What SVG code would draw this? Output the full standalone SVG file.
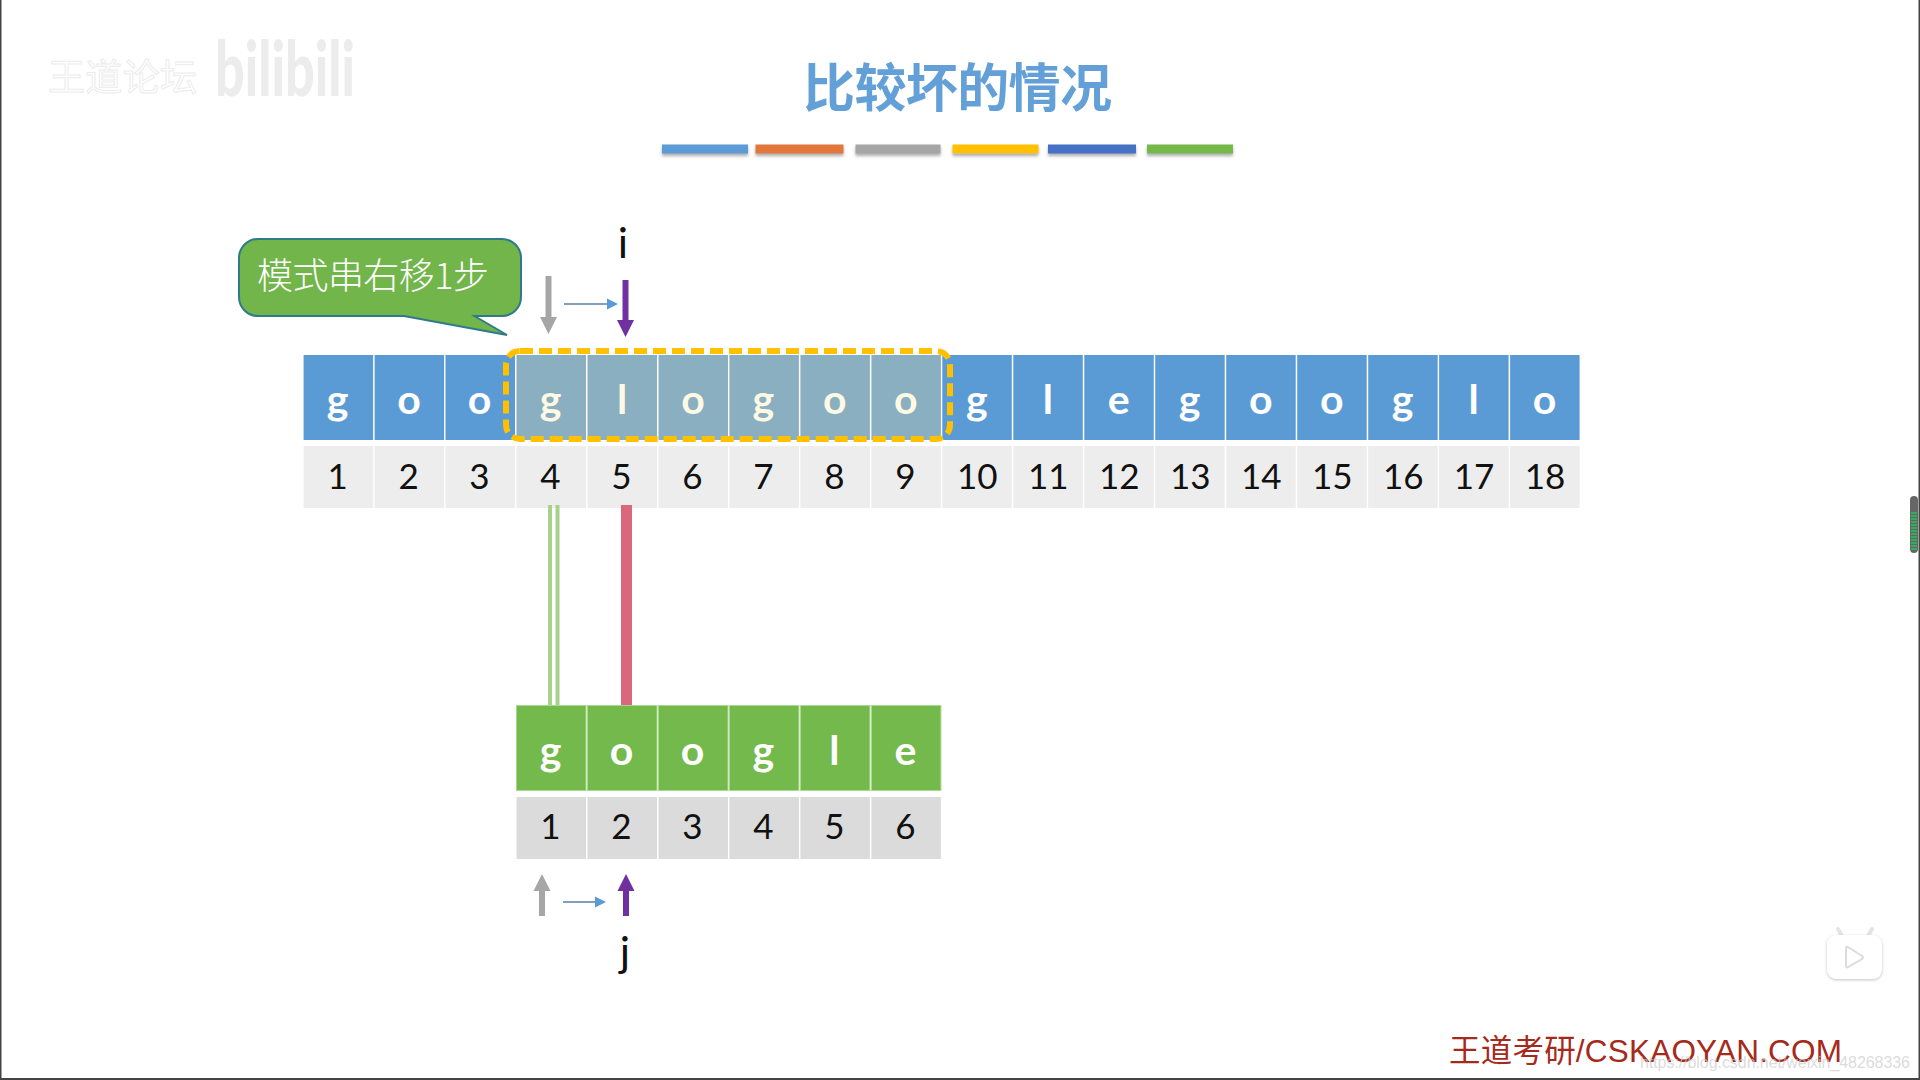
<svg xmlns="http://www.w3.org/2000/svg" width="1920" height="1080" viewBox="0 0 1920 1080">
<style>
.cjk{font-family:"Liberation Sans","Noto Sans CJK SC",sans-serif}
.l{font-family:Lato,"Open Sans",sans-serif;font-weight:700;font-size:41px;fill:#fff;text-anchor:middle}
.lo{fill:#fdf9e4}
.n{font-family:Lato,"Open Sans",sans-serif;font-size:35px;fill:#111;text-anchor:middle}
.blue{fill:#5b9bd5}.ovl{fill:#8aafc1}.green{fill:#74b94c;stroke:#a9d98e;stroke-width:1}
.g1{fill:#ededed}.g2{fill:#dbdbdb}
.bar{filter:url(#sh)}
.idx{font-family:Lato,"Open Sans",sans-serif;font-size:43px;fill:#111;text-anchor:middle}
</style>
<defs>
<filter id="sh" x="-10%" y="-50%" width="120%" height="220%"><feDropShadow dx="0" dy="2.5" stdDeviation="1.8" flood-color="#666" flood-opacity=".55"/></filter>
<filter id="sh2" x="-20%" y="-20%" width="140%" height="140%"><feDropShadow dx="0" dy="1" stdDeviation="1.5" flood-color="#999" flood-opacity=".6"/></filter>
<marker id="hg" markerUnits="userSpaceOnUse" markerWidth="18" markerHeight="18" refX="0" refY="9" orient="auto"><path d="M0 0.5L17 9L0 17.5Z" fill="#a6a6a6"/></marker>
<marker id="hp" markerUnits="userSpaceOnUse" markerWidth="18" markerHeight="18" refX="0" refY="9" orient="auto"><path d="M0 0.5L17 9L0 17.5Z" fill="#7030a0"/></marker>
<marker id="hb" markerUnits="userSpaceOnUse" markerWidth="12" markerHeight="12" refX="0" refY="6" orient="auto"><path d="M0 0.5L11 6L0 11.5Z" fill="#5b9bd5"/></marker>
</defs>
<rect width="1920" height="1080" fill="#fff"/>
<g id="frame" fill="#444"><rect x="0" y="0" width="1.5" height="1080"/><rect x="0" y="1078" width="1920" height="2"/><rect x="1918.5" y="0" width="1.5" height="1080"/></g>
<g id="watermark-left">
<text x="48" y="91" class="cjk" font-size="37" fill="#fff" stroke="#ececec" stroke-width="1" textLength="149">王道论坛</text>
<text x="215" y="96" font-family="Lato,sans-serif" font-weight="900" font-size="76" fill="#ececec" textLength="140" lengthAdjust="spacingAndGlyphs">bilibili</text>
</g>
<g id="title"><text x="803" y="107" class="cjk" font-size="52" font-weight="700" fill="#5b9bd5" fill-opacity=".95" textLength="309">比较坏的情况</text></g>
<g id="title-bars">
<rect class="bar" x="662" y="144.5" width="86" height="9" fill="#5b9bd5"/>
<rect class="bar" x="755.5" y="144.5" width="88" height="9" fill="#e2773a"/>
<rect class="bar" x="855.5" y="144.5" width="85" height="9" fill="#a5a5a5"/>
<rect class="bar" x="952.5" y="144.5" width="86" height="9" fill="#ffc000"/>
<rect class="bar" x="1048" y="144.5" width="88" height="9" fill="#4472c4"/>
<rect class="bar" x="1147" y="144.5" width="86" height="9" fill="#74b94c"/>
</g>

<g id="text-row">
<g id="t1" transform="translate(303.6 355)"><rect class="blue" width="69.5" height="85"/><text class="l" x="34" y="59">g</text></g>
<g id="t2" transform="translate(374.6 355)"><rect class="blue" width="69.5" height="85"/><text class="l" x="34.5" y="59">o</text></g>
<g id="t3" transform="translate(445.5 355)"><rect class="blue" width="69.5" height="85"/><text class="l" x="34" y="59">o</text></g>
<g id="t4" transform="translate(516.5 355)"><rect class="ovl" width="69.5" height="85"/><text class="l lo" x="34" y="59">g</text></g>
<g id="t5" transform="translate(587.5 355)"><rect class="ovl" width="69.5" height="85"/><text class="l lo" x="34.5" y="59">l</text></g>
<g id="t6" transform="translate(658.5 355)"><rect class="ovl" width="69.5" height="85"/><text class="l lo" x="34.5" y="59">o</text></g>
<g id="t7" transform="translate(729.4 355)"><rect class="ovl" width="69.5" height="85"/><text class="l lo" x="34" y="59">g</text></g>
<g id="t8" transform="translate(800.4 355)"><rect class="ovl" width="69.5" height="85"/><text class="l lo" x="34.5" y="59">o</text></g>
<g id="t9" transform="translate(871.4 355)"><rect class="ovl" width="69.5" height="85"/><text class="l lo" x="34.5" y="59">o</text></g>
<g id="t10" transform="translate(942.3 355)"><rect class="blue" width="69.5" height="85"/><text class="l" x="34.5" y="59">g</text></g>
<g id="t11" transform="translate(1013.3 355)"><rect class="blue" width="69.5" height="85"/><text class="l" x="34.5" y="59">l</text></g>
<g id="t12" transform="translate(1084.3 355)"><rect class="blue" width="69.5" height="85"/><text class="l" x="34.5" y="59">e</text></g>
<g id="t13" transform="translate(1155.2 355)"><rect class="blue" width="69.5" height="85"/><text class="l" x="34.5" y="59">g</text></g>
<g id="t14" transform="translate(1226.2 355)"><rect class="blue" width="69.5" height="85"/><text class="l" x="34.5" y="59">o</text></g>
<g id="t15" transform="translate(1297.2 355)"><rect class="blue" width="69.5" height="85"/><text class="l" x="34.5" y="59">o</text></g>
<g id="t16" transform="translate(1368.2 355)"><rect class="blue" width="69.5" height="85"/><text class="l" x="34.5" y="59">g</text></g>
<g id="t17" transform="translate(1439.1 355)"><rect class="blue" width="69.5" height="85"/><text class="l" x="34.5" y="59">l</text></g>
<g id="t18" transform="translate(1510.1 355)"><rect class="blue" width="69.5" height="85"/><text class="l" x="34.5" y="59">o</text></g>
</g>
<g id="text-index">
<g id="ti1" transform="translate(303.6 446)"><rect class="g1" width="69.5" height="62"/><text class="n" x="34" y="43">1</text></g>
<g id="ti2" transform="translate(374.6 446)"><rect class="g1" width="69.5" height="62"/><text class="n" x="34" y="43">2</text></g>
<g id="ti3" transform="translate(445.5 446)"><rect class="g1" width="69.5" height="62"/><text class="n" x="34" y="43">3</text></g>
<g id="ti4" transform="translate(516.5 446)"><rect class="g1" width="69.5" height="62"/><text class="n" x="34" y="43">4</text></g>
<g id="ti5" transform="translate(587.5 446)"><rect class="g1" width="69.5" height="62"/><text class="n" x="34" y="43">5</text></g>
<g id="ti6" transform="translate(658.5 446)"><rect class="g1" width="69.5" height="62"/><text class="n" x="34" y="43">6</text></g>
<g id="ti7" transform="translate(729.4 446)"><rect class="g1" width="69.5" height="62"/><text class="n" x="34" y="43">7</text></g>
<g id="ti8" transform="translate(800.4 446)"><rect class="g1" width="69.5" height="62"/><text class="n" x="34" y="43">8</text></g>
<g id="ti9" transform="translate(871.4 446)"><rect class="g1" width="69.5" height="62"/><text class="n" x="34" y="43">9</text></g>
<g id="ti10" transform="translate(942.3 446)"><rect class="g1" width="69.5" height="62"/><text class="n" x="35" y="43">10</text></g>
<g id="ti11" transform="translate(1013.3 446)"><rect class="g1" width="69.5" height="62"/><text class="n" x="35" y="43">11</text></g>
<g id="ti12" transform="translate(1084.3 446)"><rect class="g1" width="69.5" height="62"/><text class="n" x="35" y="43">12</text></g>
<g id="ti13" transform="translate(1155.2 446)"><rect class="g1" width="69.5" height="62"/><text class="n" x="35" y="43">13</text></g>
<g id="ti14" transform="translate(1226.2 446)"><rect class="g1" width="69.5" height="62"/><text class="n" x="35" y="43">14</text></g>
<g id="ti15" transform="translate(1297.2 446)"><rect class="g1" width="69.5" height="62"/><text class="n" x="35" y="43">15</text></g>
<g id="ti16" transform="translate(1368.2 446)"><rect class="g1" width="69.5" height="62"/><text class="n" x="35" y="43">16</text></g>
<g id="ti17" transform="translate(1439.1 446)"><rect class="g1" width="69.5" height="62"/><text class="n" x="35" y="43">17</text></g>
<g id="ti18" transform="translate(1510.1 446)"><rect class="g1" width="69.5" height="62"/><text class="n" x="35" y="43">18</text></g>
</g>
<g id="pattern-row">
<g id="p1" transform="translate(516.5 705.5)"><rect class="green" width="69.5" height="85"/><text class="l" x="34" y="59">g</text></g>
<g id="p2" transform="translate(587.5 705.5)"><rect class="green" width="69.5" height="85"/><text class="l" x="34" y="59">o</text></g>
<g id="p3" transform="translate(658.5 705.5)"><rect class="green" width="69.5" height="85"/><text class="l" x="34" y="59">o</text></g>
<g id="p4" transform="translate(729.4 705.5)"><rect class="green" width="69.5" height="85"/><text class="l" x="34" y="59">g</text></g>
<g id="p5" transform="translate(800.4 705.5)"><rect class="green" width="69.5" height="85"/><text class="l" x="34" y="59">l</text></g>
<g id="p6" transform="translate(871.4 705.5)"><rect class="green" width="69.5" height="85"/><text class="l" x="34" y="59">e</text></g>
</g>
<g id="pattern-index">
<g id="pi1" transform="translate(516.5 797)"><rect class="g2" width="69.5" height="62"/><text class="n" x="34" y="42">1</text></g>
<g id="pi2" transform="translate(587.5 797)"><rect class="g2" width="69.5" height="62"/><text class="n" x="34" y="42">2</text></g>
<g id="pi3" transform="translate(658.5 797)"><rect class="g2" width="69.5" height="62"/><text class="n" x="34" y="42">3</text></g>
<g id="pi4" transform="translate(729.4 797)"><rect class="g2" width="69.5" height="62"/><text class="n" x="34" y="42">4</text></g>
<g id="pi5" transform="translate(800.4 797)"><rect class="g2" width="69.5" height="62"/><text class="n" x="34" y="42">5</text></g>
<g id="pi6" transform="translate(871.4 797)"><rect class="g2" width="69.5" height="62"/><text class="n" x="34" y="42">6</text></g>
</g>

<g id="window"><rect x="506" y="351" width="444" height="88" rx="14" fill="none" stroke="#ffc000" stroke-width="6" stroke-dasharray="13 6"/></g>

<g id="connectors" fill="none">
<line x1="550" y1="505" x2="550" y2="705" stroke="#a9d18e" stroke-width="4"/>
<line x1="557.5" y1="505" x2="557.5" y2="705" stroke="#a9d18e" stroke-width="4"/>
<line x1="626.5" y1="505" x2="626.5" y2="705" stroke="#d9687c" stroke-width="11"/>
<line x1="548.5" y1="276" x2="548.5" y2="317" stroke="#a6a6a6" stroke-width="6" marker-end="url(#hg)"/>
<line x1="625.5" y1="280" x2="625.5" y2="320" stroke="#7030a0" stroke-width="6" marker-end="url(#hp)"/>
<line x1="564" y1="304" x2="607" y2="304" stroke="#5b7fa8" stroke-width="1.5" marker-end="url(#hb)"/>
<line x1="542" y1="916" x2="542" y2="891" stroke="#a6a6a6" stroke-width="6" marker-end="url(#hg)"/>
<line x1="626" y1="916" x2="626" y2="891" stroke="#7030a0" stroke-width="6" marker-end="url(#hp)"/>
<line x1="563" y1="902" x2="595" y2="902" stroke="#5b7fa8" stroke-width="1.5" marker-end="url(#hb)"/>
</g>

<g id="label-i"><text class="idx" x="623" y="258">i</text></g>
<g id="label-j"><text class="idx" x="625" y="967">j</text></g>

<g id="callout">
<path d="M258 239H502a19 19 0 0 1 19 19V297a19 19 0 0 1-19 19H474.5L507 335L404 316H258a19 19 0 0 1-19-19V258a19 19 0 0 1 19-19Z" fill="#72b54a" stroke="#2f7a8c" stroke-width="2"/>
<text x="257" y="289" class="cjk" font-size="36" font-weight="300" fill="#fff" style="font-family:'Noto Sans CJK SC',sans-serif" textLength="232">模式串右移1步</text>
</g>

<g id="brand"><text x="1449" y="1062" class="cjk" font-size="31.5" fill="#a52a1c" textLength="393">王道考研/CSKAOYAN.COM</text></g>
<g id="watermark-csdn"><text x="1640" y="1068" font-family="Liberation Sans,sans-serif" font-size="16" fill="#ccc" fill-opacity=".7" textLength="270">https://blog.csdn.net/weixin_48268336</text></g>

<g id="play-button">
<path d="M1842 936L1838 929M1868 936L1872 929" stroke="#e4e4e4" stroke-width="4" stroke-linecap="round" fill="none"/>
<rect x="1827" y="935" width="55" height="44" rx="9" fill="#fff" filter="url(#sh2)"/>
<path d="M1846 948L1846 966Q1846 968 1848 967L1862 959Q1864 957 1862 956L1848 947Q1846 946 1846 948Z" fill="#fff" stroke="#dcdcdc" stroke-width="2"/>
</g>

<g id="scroll-indicator">
<rect x="1910" y="496" width="8" height="57" rx="4" fill="#666"/>
<path d="M1911 513H1917M1911 516H1917M1911 519H1917M1911 522H1917M1911 525H1917M1911 528H1917M1911 531H1917M1911 534H1917M1911 537H1917M1911 540H1917M1911 543H1917M1911 546H1917M1911 549H1917" stroke="#22c55e" stroke-width="1.6" fill="none"/>
</g>
</svg>
